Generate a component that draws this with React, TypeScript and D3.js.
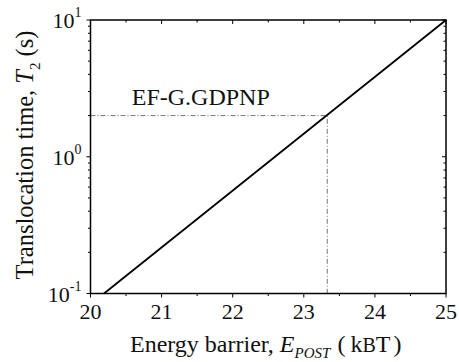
import React from 'react';
import * as d3 from 'd3';

// line endpoints (energy barrier kBT, translocation time s)
const lineE = [20.19, 25];
const lineT = [0.1, 10];
// marked point
const markE = 23.33;
const markT = 2;
const markLabel = 'EF-G.GDPNP';
const xTicks = [20, 21, 22, 23, 24, 25];
const yTicks = [0.1, 1, 10];
const yExp = ['-1', '0', '1'];

const W = 459;
const H = 362;
const margin = { left: 90.5, right: 13, top: 20, bottom: 68.5 };
const FONT = 'Liberation Serif, Times New Roman, serif';

export default function App() {
  const x = d3.scaleLinear().domain([20, 25]).range([margin.left, W - margin.right]);
  const y = d3.scaleLog().domain([0.1, 10]).range([H - margin.bottom, margin.top]);
  const [x0, x1] = x.range();
  const [yb, yt] = y.range();

  const pts = lineE.map((e, i) => [e, lineT[i]] as [number, number]);
  const line = d3.line<[number, number]>().x(d => x(d[0])).y(d => y(d[1]));

  const xMinor = d3.range(20.5, 25, 1);
  const yMinor: number[] = [];
  [0.1, 1].forEach(b => { for (let k = 2; k <= 9; k++) yMinor.push(b * k); });

  return (
    <svg width={W} height={H} style={{ position: 'absolute', left: 0, top: 0, background: '#fff' }}>
      {/* dash-dot guide lines */}
      <path
        d={`M${x0},${y(markT)}H${x(markE)}V${yb}`}
        fill="none" stroke="#777" strokeWidth={1} strokeDasharray="5,2,1,2"
      />
      <text x={x(20.58)} y={y(markT) - 11} fontFamily={FONT} fontSize={24} fill="#111">{markLabel}</text>

      {/* main line */}
      <path d={line(pts) || ''} fill="none" stroke="#000" strokeWidth={1.8} />

      {/* frame */}
      <rect x={x0} y={yt} width={x1 - x0} height={yb - yt} fill="none" stroke="#000" strokeWidth={1.5} />

      {/* x ticks */}
      {xTicks.map(t => (
        <g key={'xt' + t}>
          <line x1={x(t)} x2={x(t)} y1={yb} y2={yb + 4} stroke="#000" />
          <line x1={x(t)} x2={x(t)} y1={yt} y2={yt + 4} stroke="#000" />
          <text x={x(t)} y={yb + 25} textAnchor="middle" fontFamily={FONT} fontSize={22} fill="#111">{t}</text>
        </g>
      ))}
      {xMinor.map(t => (
        <g key={'xm' + t}>
          <line x1={x(t)} x2={x(t)} y1={yb} y2={yb + 2.5} stroke="#000" />
          <line x1={x(t)} x2={x(t)} y1={yt} y2={yt + 2.5} stroke="#000" />
        </g>
      ))}

      {/* y ticks */}
      {yTicks.map((t, i) => (
        <g key={'yt' + t}>
          <line x1={x0 - 4} x2={x0} y1={y(t)} y2={y(t)} stroke="#000" />
          <line x1={x1 - 4} x2={x1} y1={y(t)} y2={y(t)} stroke="#000" />
          <text x={x0 - 9} y={y(t) + 8} textAnchor="end" fontFamily={FONT} fontSize={22} fill="#111">
            10<tspan dy={-11} fontSize={14}>{yExp[i]}</tspan>
          </text>
        </g>
      ))}
      {yMinor.map(t => (
        <g key={'ym' + t}>
          <line x1={x0 - 2.5} x2={x0} y1={y(t)} y2={y(t)} stroke="#000" />
          <line x1={x1 - 2.5} x2={x1} y1={y(t)} y2={y(t)} stroke="#000" />
        </g>
      ))}

      {/* axis titles */}
      <text x={130} y={352} fontFamily={FONT} fontSize={24} fill="#111">
        Energy barrier, <tspan fontStyle="italic">E</tspan>
        <tspan fontStyle="italic" fontSize={15} dy={6}>POST</tspan>
        <tspan dy={-6} dx={7}>(</tspan>
        <tspan dx={5}>k</tspan>
        <tspan fontSize={20}>B</tspan>
        <tspan>T</tspan>
        <tspan dx={3}>)</tspan>
      </text>
      <text
        transform={`translate(33,155) rotate(-90)`}
        textAnchor="middle" fontFamily={FONT} fontSize={24.5} fill="#111"
      >
        Translocation time, <tspan fontStyle="italic">T</tspan>
        <tspan fontSize={15} dy={7}>2</tspan>
        <tspan dy={-7}> (s)</tspan>
      </text>
    </svg>
  );
}
